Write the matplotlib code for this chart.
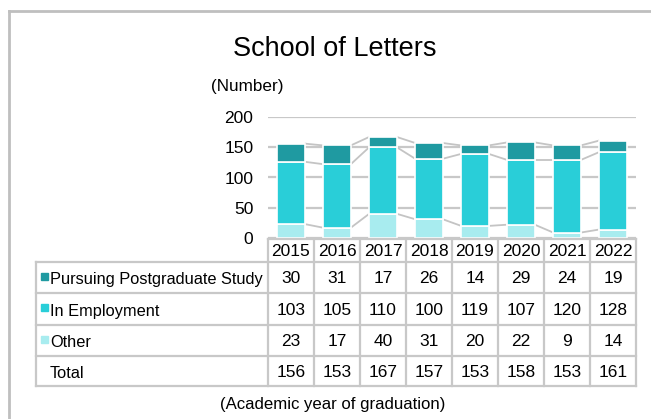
import matplotlib.pyplot as plt
import numpy as np
from matplotlib.patches import Rectangle

plt.rcParams['font.family'] = ['Liberation Sans', 'DejaVu Sans']

# Data
years = ['2015', '2016', '2017', '2018', '2019', '2020', '2021', '2022']
other = [23, 17, 40, 31, 20, 22, 9, 14]
employment = [103, 105, 110, 100, 119, 107, 120, 128]
postgrad = [30, 31, 17, 26, 14, 29, 24, 19]
totals = [156, 153, 167, 157, 153, 158, 153, 161]

series_names = ['Pursuing Postgraduate Study', 'In Employment', 'Other']
colors = {'Pursuing Postgraduate Study': '#1f9aa1',
          'In Employment': '#29ced8',
          'Other': '#a8ecef'}

W, H = 651, 419
fig = plt.figure(figsize=(W / 100, H / 100), dpi=100)

def px_box(x0, y0, x1, y1):
    # pixel box (top-left origin) -> figure fraction rect
    return [x0 / W, 1 - y1 / H, (x1 - x0) / W, (y1 - y0) / H]

# chart axes: x from 268 to 636 px, y from 117 (200) to 238 (0)
ax = fig.add_axes(px_box(268, 117, 636, 238))
x = np.arange(len(years))
bw = 0.6
b1 = np.array(other)
b2 = b1 + np.array(employment)
b3 = b2 + np.array(postgrad)
ax.bar(x, other, bw, color=colors['Other'], edgecolor='white', linewidth=1.2, zorder=3)
ax.bar(x, employment, bw, bottom=b1, color=colors['In Employment'],
       edgecolor='white', linewidth=1.2, zorder=3)
ax.bar(x, postgrad, bw, bottom=b2, color=colors['Pursuing Postgraduate Study'],
       edgecolor='white', linewidth=1.2, zorder=3)

# series lines between bars
for tops in (b1, b2, b3):
    for i in range(len(years) - 1):
        ax.plot([x[i] + bw / 2, x[i + 1] - bw / 2], [tops[i], tops[i + 1]],
                color='#c4c4c4', linewidth=1.3, zorder=2, solid_capstyle='butt')

ax.set_xlim(-0.5, len(years) - 0.5)
ax.set_ylim(0, 200)
ax.set_yticks([0, 50, 100, 150, 200])
ax.yaxis.grid(True, color='#c8c8c8', linewidth=1.6, zorder=0)
ax.set_xticks([])
ax.tick_params(axis='y', length=0, labelsize=12.5, pad=10.5)
for s in ax.spines.values():
    s.set_visible(False)

# table drawn in figure pixel coordinates
tax = fig.add_axes([0, 0, 1, 1])
tax.set_xlim(0, W)
tax.set_ylim(H, 0)
tax.axis('off')
gc = '#c8c8c8'
lw = 1.6
col_x0 = 268
col_w = (636 - 268) / len(years)
tab_left = 36
head_top, rows_y = 239, [262, 293, 325, 356, 386]

# header cells
tax.plot([col_x0, 636], [head_top, head_top], color=gc, lw=lw)
for i in range(len(years) + 1):
    xx = col_x0 + i * col_w
    tax.plot([xx, xx], [head_top, rows_y[-1]], color=gc, lw=lw)
for i, yr in enumerate(years):
    tax.text(col_x0 + (i + 0.5) * col_w, (head_top + rows_y[0]) / 2 + 1, yr,
             ha='center', va='center', fontsize=12.5)
for yy in rows_y:
    tax.plot([tab_left, 636], [yy, yy], color=gc, lw=lw)
tax.plot([tab_left, tab_left], [rows_y[0], rows_y[-1]], color=gc, lw=lw)

row_labels = series_names + ['Total']
row_vals = [postgrad, employment, other, totals]
for r, (lab, vals) in enumerate(zip(row_labels, row_vals)):
    yc = (rows_y[r] + rows_y[r + 1]) / 2 + 1
    if lab in colors:
        tax.add_patch(Rectangle((41, yc - 6), 7, 7, color=colors[lab]))
    tax.text(50, yc + 1, lab, ha='left', va='center', fontsize=11.8)
    for i, v in enumerate(vals):
        tax.text(col_x0 + (i + 0.5) * col_w, yc, str(v), ha='center', va='center',
                 fontsize=12.5)

# outer frame
tax.plot([8.5, W], [11.5, 11.5], color='#bfbfbf', lw=2)
tax.plot([8.5, 8.5], [11.5, H], color='#bfbfbf', lw=2)

# titles
tax.text(335, 49, 'School of Letters', ha='center', va='center', fontsize=19.5)
tax.text(247.5, 87, '(Number)', ha='center', va='center', fontsize=12.3)
tax.text(333, 404, '(Academic year of graduation)', ha='center', va='center', fontsize=12.1)

fig.savefig('out.png', dpi=100)
